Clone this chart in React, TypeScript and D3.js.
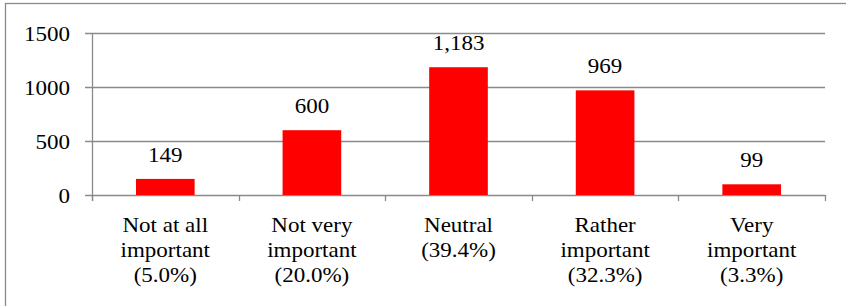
import React from 'react';
import * as d3 from 'd3';

// chart values
const categoryLines: string[][] = [
  ['Not at all', 'important'],
  ['Not very', 'important'],
  ['Neutral'],
  ['Rather', 'important'],
  ['Very', 'important'],
];
const shares: string[] = ['(5.0%)', '(20.0%)', '(39.4%)', '(32.3%)', '(3.3%)'];
const counts: number[] = [149, 600, 1183, 969, 99];
const yTicks: number[] = [0, 500, 1000, 1500];

const WIDTH = 846;
const HEIGHT = 306;
const STRETCH = 1.15; // the picture's text is a little wide
const textStyle = { fontFamily: "'Liberation Serif'", fontSize: 20 };

const left = 92, right = 825, top = 33, bottom = 195;
const gray = '#8a8a8a';

export default function App() {
  const keys = counts.map((_, i) => String(i));
  const x = d3.scaleBand<string>().domain(keys).range([left, right]).padding(0);
  const y = d3.scaleLinear().domain([0, 1500]).range([bottom, top]);
  const barW = x.bandwidth() * 0.4;
  const fmt = d3.format(',');
  const mid = (i: number) => (x(keys[i]) as number) + x.bandwidth() / 2;
  const edges = keys.map((k) => x(k) as number).concat([right]);

  return (
    <svg
      width={WIDTH}
      height={HEIGHT}
      style={{ position: 'absolute', left: 0, top: 0, background: '#fff' }}
    >
      {/* outer frame, runs off the right and bottom */}
      <rect x={5.5} y={3.5} width={900} height={400} fill="none" stroke={gray} strokeWidth={1.3} />

      {yTicks.map((t) => {
        const yy = Math.round(y(t)) + 0.5;
        return (
          <g key={t}>
            <line x1={left - 7} x2={right} y1={yy} y2={yy} stroke={gray} strokeWidth={1.3} />
            <text
              transform={`translate(70,${yy + 7}) scale(${STRETCH},1)`}
              textAnchor="end"
              style={textStyle}
            >
              {t}
            </text>
          </g>
        );
      })}

      <line x1={left + 0.5} x2={left + 0.5} y1={y(1500)} y2={bottom + 6} stroke={gray} strokeWidth={1.3} />
      {edges.map((e, i) => (
        <line
          key={i}
          x1={Math.round(e) + 0.5}
          x2={Math.round(e) + 0.5}
          y1={bottom}
          y2={bottom + 6}
          stroke={gray}
          strokeWidth={1.3}
        />
      ))}

      {counts.map((d, i) => (
        <rect key={i} x={mid(i) - barW / 2} y={y(d)} width={barW} height={bottom - y(d)} fill="#ff0000" />
      ))}

      {counts.map((d, i) => (
        <text
          key={i}
          transform={`translate(${mid(i)},${y(d) - 17}) scale(${STRETCH},1)`}
          textAnchor="middle"
          style={textStyle}
        >
          {fmt(d)}
        </text>
      ))}

      {categoryLines.map((lines, i) =>
        lines.concat([shares[i]]).map((line, j) => (
          <text
            key={`${i}-${j}`}
            transform={`translate(${mid(i)},${231.5 + j * 25}) scale(${STRETCH},1)`}
            textAnchor="middle"
            style={textStyle}
          >
            {line}
          </text>
        ))
      )}
    </svg>
  );
}
